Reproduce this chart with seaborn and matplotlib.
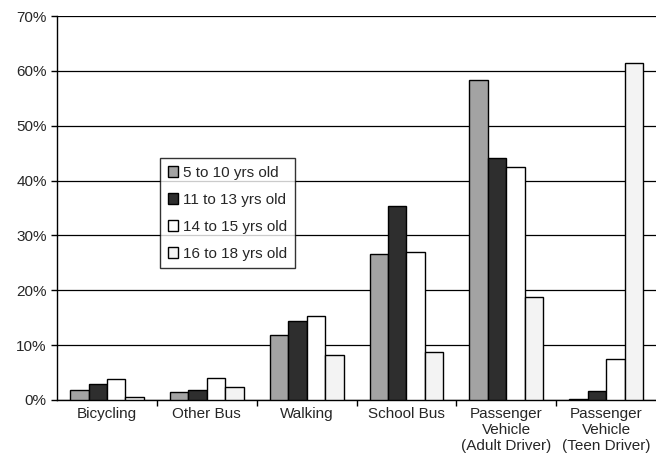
import numpy as np
import pandas as pd
import matplotlib
matplotlib.use('Agg')
import matplotlib.pyplot as plt
from matplotlib.ticker import PercentFormatter, FixedLocator
import seaborn as sns

categories = ['Bicycling', 'Other Bus', 'Walking', 'School Bus',
              'Passenger\nVehicle\n(Adult Driver)', 'Passenger\nVehicle\n(Teen Driver)']
groups = ['5 to 10 yrs old', '11 to 13 yrs old', '14 to 15 yrs old', '16 to 18 yrs old']
age5_10 = [1.8, 1.4, 11.9, 26.6, 58.3, 0.2]
age11_13 = [2.9, 1.8, 14.4, 35.3, 44.1, 1.6]
age14_15 = [3.9, 4.1, 15.3, 26.9, 42.4, 7.5]
age16_18 = [0.5, 2.4, 8.2, 8.7, 18.8, 61.5]
barColors = ['#a3a3a3', '#2e2e2e', '#ffffff', '#f3f3f3']

rows = []
for g, vals in zip(groups, [age5_10, age11_13, age14_15, age16_18]):
	for c, v in zip(categories, vals):
		rows.append({'mode': c, 'age': g, 'share': v})
df = pd.DataFrame(rows)

sns.set_style('white')
plt.rcParams['font.family'] = ['Liberation Sans', 'DejaVu Sans']

fig = plt.figure(figsize=(6.56, 4.67), dpi=100)
ax = fig.add_axes([0.087, 0.1435, 0.913, 0.822])

sns.barplot(data=df, x='mode', y='share', hue='age', order=categories, hue_order=groups,
            palette=barColors, edgecolor='black', linewidth=1, width=0.74, gap=0,
            saturation=1, ax=ax, zorder=3)

ax.set_ylim(0, 70)
ax.set_xlim(-0.5, len(categories) - 0.5)
ax.set_yticks(np.arange(0, 71, 10))
ax.yaxis.set_major_formatter(PercentFormatter(decimals=0))
ax.grid(axis='y', color='black', lw=0.9, zorder=0)
ax.set_axisbelow(True)
ax.set_xlabel('')
ax.set_ylabel('')

# ticks between categories
ax.xaxis.set_minor_locator(FixedLocator(np.arange(0.5, len(categories) - 0.5, 1)))
ax.tick_params(axis='x', which='major', length=0, labelsize=11, pad=5)
ax.tick_params(axis='x', which='minor', length=4, direction='out', color='black', width=1, bottom=True)
ax.tick_params(axis='y', length=4, direction='out', color='black', width=1, labelsize=11, left=True)

for s in ['left', 'bottom']:
	ax.spines[s].set_color('black')
	ax.spines[s].set_linewidth(1)
ax.spines['right'].set_visible(False)
ax.spines['top'].set_visible(False)

leg = ax.legend(loc='upper left', bbox_to_anchor=(0.172, 0.63), fontsize=11, frameon=True,
                fancybox=False, edgecolor='black', handlelength=0.7, handleheight=0.7,
                handletextpad=0.3, labelspacing=0.85, borderpad=0.5, borderaxespad=0, title=None)
leg.get_frame().set_linewidth(1)
leg.set_zorder(5)

fig.savefig('out.png', dpi=100)
